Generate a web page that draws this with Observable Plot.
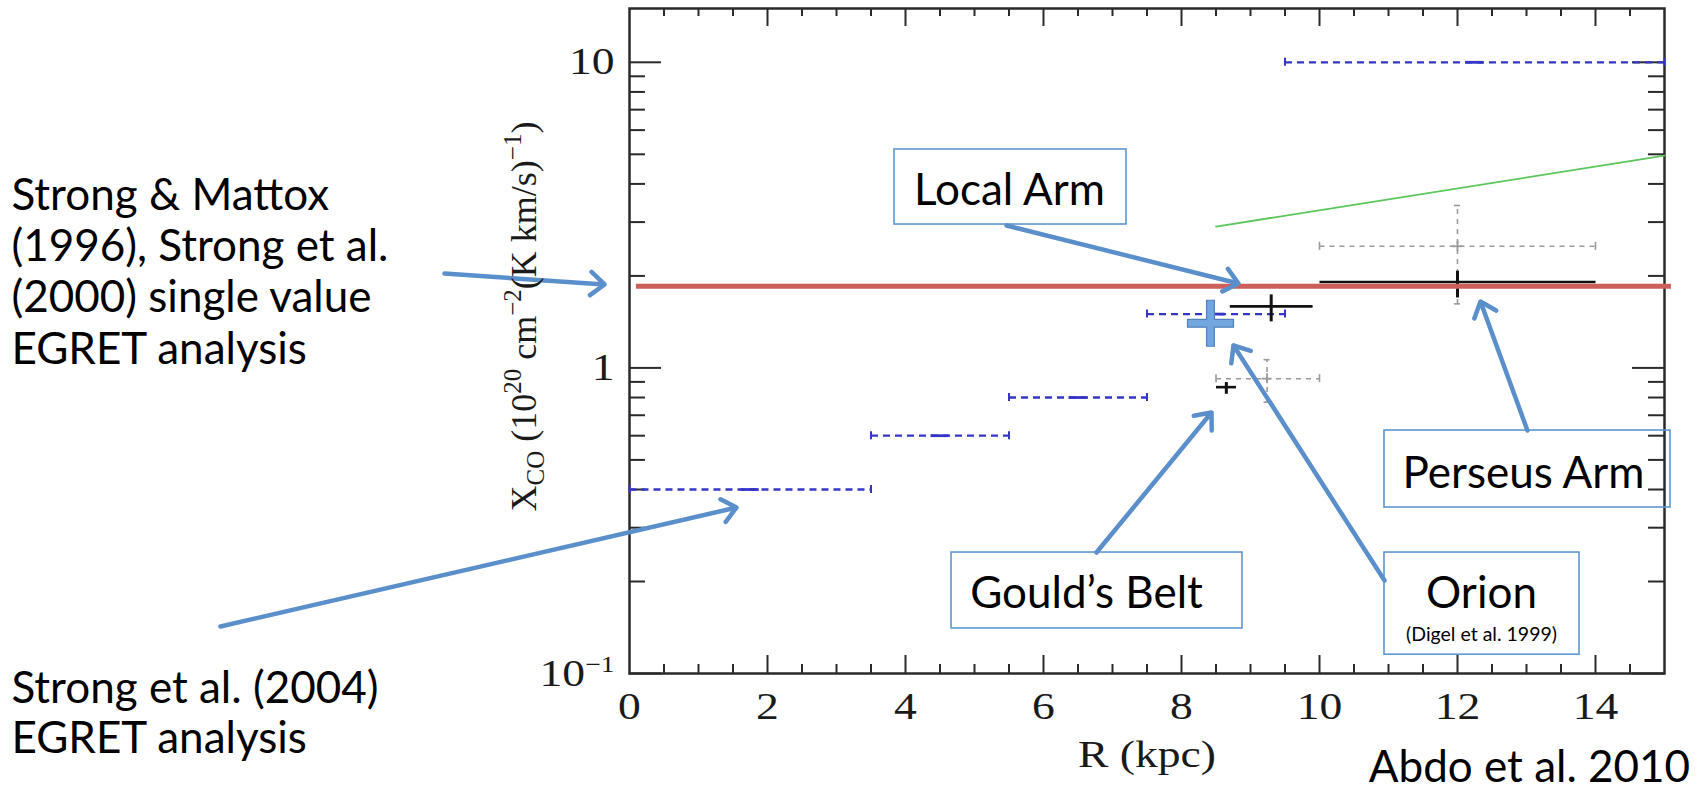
<!DOCTYPE html>
<html>
<head>
<meta charset="utf-8">
<script src="https://cdn.jsdelivr.net/npm/d3@7"></script>
<script src="https://cdn.jsdelivr.net/npm/@observablehq/plot@0.6"></script>
<style>
  html, body { margin: 0; padding: 0; background: #fff; }
  #chart svg { display: block; }
</style>
</head>
<body>
<div id="chart"></div>
<script>
// ---------------- DATA (R in kpc, X_CO in 1e20 cm^-2 (K km/s)^-1) ----------------
// tick values
const xTicks = [0, 2, 4, 6, 8, 10, 12, 14];
const yTicks = [0.1, 1, 10];

// Strong et al. (2004) EGRET radial bins (blue dashed steps)
const binLo = [0, 3.5, 5.5, 7.5, 9.5];
const binHi = [3.5, 5.5, 7.5, 9.5, 15];
const binX  = [0.4, 0.6, 0.8, 1.5, 10];

// green model line
const greenR = [8.5, 15];
const greenX = [2.9, 4.95];

// black crosses: Gould's Belt, Local Arm, Perseus Arm
const blackR   = [8.65, 9.3, 12];
const blackRlo = [8.5, 8.7, 10];
const blackRhi = [8.79, 9.9, 14];
const blackX   = [0.865, 1.59, 1.91];
const blackXlo = [0.823, 1.42, 1.70];
const blackXhi = [0.899, 1.74, 2.08];

// grey dashed crosses: Orion (Digel et al. 1999), Perseus
const greyR   = [9.24, 12];
const greyRlo = [8.5, 10];
const greyRhi = [10, 14];
const greyX   = [0.922, 2.5];
const greyXlo = [0.773, 1.62];
const greyXhi = [1.064, 3.40];

// single value (Strong & Mattox 1996; Strong et al. 2000)
const singleX = [1.85];
const singleR = [0.1, 15.1];

// highlighted point (blue plus)
const plusR = [8.42];
const plusX = [1.40];

// ---------------- ANNOTATIONS (placed in data units) ----------------
const leftNote1  = ["Strong & Mattox", "(1996), Strong et al.", "(2000) single value", "EGRET analysis"];
const leftNote1X = [3.666, 2.496, 1.693, 1.149];
const leftNote2  = ["Strong et al. (2004)", "EGRET analysis"];
const leftNote2X = [0.0893, 0.0613];
const leftNoteR  = -8.957;

const boxLabel = ["Local Arm", "Gould\u2019s Belt", "Orion", "Perseus Arm"];
const boxR1  = [3.841, 4.667, 10.942, 10.942];
const boxR2  = [7.203, 8.884, 13.768, 15.087];
const boxXlo = [2.946, 0.1404, 0.1152, 0.3493];
const boxXhi = [5.185, 0.2488, 0.2488, 0.6238];
const labelR = [5.507, 6.623, 12.348, 12.957];
const labelX = [3.793, 0.1827, 0.1827, 0.4513];

const subNote  = ["(Digel et al. 1999)"];
const subNoteR = [12.348];
const subNoteX = [0.1341];

const creditNote  = ["Abdo et al. 2010"];
const creditNoteR = [13.043];
const creditNoteX = [0.0490];

const arrowR1 = [-2.681, -5.928, 5.464, 6.768, 10.942, 13.014];
const arrowX1 = [2.036, 0.1425, 2.924, 0.2488, 0.2015, 0.6238];
const arrowR2 = [-0.362, 1.551, 8.826, 8.435, 8.754, 12.333];
const arrowX2 = [1.875, 0.3493, 1.889, 0.7145, 1.184, 1.649];

const xLabel = "R (kpc)";
const yLabelParts = [["X", 0], ["CO", -1], [" (10", 0], ["20", 1], [" cm", 0], ["\u22122", 1], ["(K km/s)", 0], ["\u22121", 1], [")", 0]];
const yLabelPlain = yLabelParts.map(d => d[0]).join("");

// ---------------- LAYOUT / STYLE ----------------
const W = 1697, H = 791;
const mL = 629, mR = 33, mT = 8, mB = 118;
const plotW = W - mL - mR, plotH = H - mT - mB;
const axisCol = "#2a2a2a";
const blue = "#3535c8", grey = "#9a9a9a", green = "#5cc55c", black = "#111";
const red = "#cd5f5a", arrowCol = "#5b8fcb", boxCol = "#5f96cf";
const serif = "'Liberation Serif', 'Times New Roman', serif";
const sans = "Lato, Carlito, 'Open Sans', sans-serif";
const noteSize = 44;

const idx = a => a.map((_, i) => i);
const xMinor = d3.range(0.5, 15, 0.5).filter(v => v % 2 !== 0);
const xMajor = xTicks.slice(1);
const yMinor = [2,3,4,5,6,7,8,9].map(k => k * 0.1).concat([2,3,4,5,6,7,8,9]);

const plusSymbol = {
  draw(ctx, size) {
    const r = Math.sqrt(size / Math.PI), w = r * 0.17;
    ctx.moveTo(-w, -r); ctx.lineTo(w, -r); ctx.lineTo(w, -w); ctx.lineTo(r, -w);
    ctx.lineTo(r, w); ctx.lineTo(w, w); ctx.lineTo(w, r); ctx.lineTo(-w, r);
    ctx.lineTo(-w, w); ctx.lineTo(-r, w); ctx.lineTo(-r, -w); ctx.lineTo(-w, -w);
    ctx.closePath();
  }
};

const si = idx(binLo), bi = idx(blackR), gi = idx(greyR);

const chart = Plot.plot({
  width: W, height: H,
  marginLeft: mL, marginRight: mR, marginTop: mT, marginBottom: mB,
  style: {fontFamily: serif, fontSize: "38px", color: "#1a1a1a", background: "#fff", overflow: "visible"},
  x: {domain: [0, 15], ticks: xTicks, tickSize: 0, tickPadding: 18.7, tickFormat: d => String(d), label: null},
  y: {type: "log", domain: [0.1, 15], ticks: yTicks, tickSize: 0, tickPadding: 15,
      tickFormat: d => d === 0.1 ? "10\u207B\u00B9" : String(d), label: null},
  marks: [
    // inner ticks on all four sides
    Plot.ruleX(xMinor, {insetTop: plotH - 9, stroke: axisCol, strokeWidth: 2}),
    Plot.ruleX(xMinor, {insetBottom: plotH - 8, stroke: axisCol, strokeWidth: 2}),
    Plot.ruleX(xMajor, {insetTop: plotH - 18, stroke: axisCol, strokeWidth: 2}),
    Plot.ruleX(xMajor, {insetBottom: plotH - 18, stroke: axisCol, strokeWidth: 2}),
    Plot.ruleY(yMinor, {insetRight: plotW - 16, stroke: axisCol, strokeWidth: 2}),
    Plot.ruleY(yMinor, {insetLeft: plotW - 16, stroke: axisCol, strokeWidth: 2}),
    Plot.ruleY(yTicks, {insetRight: plotW - 32, stroke: axisCol, strokeWidth: 2}),
    Plot.ruleY(yTicks, {insetLeft: plotW - 32, stroke: axisCol, strokeWidth: 2}),
    Plot.frame({stroke: axisCol, strokeWidth: 2.5}),

    // grey dashed crosses
    Plot.link(gi, {x1: i => greyRlo[i], x2: i => greyRhi[i], y1: i => greyX[i], y2: i => greyX[i],
      stroke: grey, strokeWidth: 1.6, strokeDasharray: "5,5"}),
    Plot.link(gi, {x1: i => greyR[i], x2: i => greyR[i], y1: i => greyXlo[i], y2: i => greyXhi[i],
      stroke: grey, strokeWidth: 1.6, strokeDasharray: "5,5"}),
    Plot.ruleX(gi, {x: i => greyRlo[i], y1: i => greyX[i], y2: i => greyX[i], insetTop: -4, insetBottom: -4, stroke: grey, strokeWidth: 1.6}),
    Plot.ruleX(gi, {x: i => greyRhi[i], y1: i => greyX[i], y2: i => greyX[i], insetTop: -4, insetBottom: -4, stroke: grey, strokeWidth: 1.6}),
    Plot.ruleY(gi, {y: i => greyXlo[i], x1: i => greyR[i], x2: i => greyR[i], insetLeft: -3, insetRight: -3, stroke: grey, strokeWidth: 1.6}),
    Plot.ruleY(gi, {y: i => greyXhi[i], x1: i => greyR[i], x2: i => greyR[i], insetLeft: -3, insetRight: -3, stroke: grey, strokeWidth: 1.6}),
    Plot.ruleX(gi, {x: i => greyR[i], y1: i => greyX[i], y2: i => greyX[i], insetTop: -5, insetBottom: -5, stroke: grey, strokeWidth: 1.8}),
    Plot.ruleY(gi, {y: i => greyX[i], x1: i => greyR[i], x2: i => greyR[i], insetLeft: -5, insetRight: -5, stroke: grey, strokeWidth: 1.8}),

    // blue dashed steps (Strong et al. 2004)
    Plot.link(si, {x1: i => binLo[i], x2: i => binHi[i], y1: i => binX[i], y2: i => binX[i],
      stroke: blue, strokeWidth: 2.3, strokeDasharray: "7,5"}),
    Plot.ruleX(si, {x: i => binLo[i], y1: i => binX[i], y2: i => binX[i], insetTop: -4, insetBottom: -4, stroke: blue, strokeWidth: 2}),
    Plot.ruleX(si, {x: i => binHi[i], y1: i => binX[i], y2: i => binX[i], insetTop: -4, insetBottom: -4, stroke: blue, strokeWidth: 2}),
    Plot.ruleY(si, {y: i => binX[i], x1: i => (binLo[i] + binHi[i]) / 2, x2: i => (binLo[i] + binHi[i]) / 2,
      insetLeft: -9, insetRight: -9, stroke: blue, strokeWidth: 2.8}),

    // green model
    Plot.line(idx(greenR), {x: i => greenR[i], y: i => greenX[i], stroke: green, strokeWidth: 1.8}),

    // black crosses
    Plot.link(bi, {x1: i => blackRlo[i], x2: i => blackRhi[i], y1: i => blackX[i], y2: i => blackX[i], stroke: black, strokeWidth: 2.6}),
    Plot.link(bi, {x1: i => blackR[i], x2: i => blackR[i], y1: i => blackXlo[i], y2: i => blackXhi[i], stroke: black, strokeWidth: 3}),

    // single value line
    Plot.ruleY(singleX, {x1: () => singleR[0], x2: () => singleR[1], stroke: red, strokeWidth: 5}),

    // highlighted blue plus
    Plot.dot(idx(plusR), {x: i => plusR[i], y: i => plusX[i], r: 23, symbol: plusSymbol,
      fill: "#72a6de", stroke: "#4f81bd", strokeWidth: 1.2}),

    // annotation boxes
    Plot.rect(idx(boxLabel), {x1: i => boxR1[i], x2: i => boxR2[i], y1: i => boxXlo[i], y2: i => boxXhi[i],
      fill: "none", stroke: boxCol, strokeWidth: 1.6}),

    // arrows
    Plot.arrow(idx(arrowR1), {x1: i => arrowR1[i], y1: i => arrowX1[i], x2: i => arrowR2[i], y2: i => arrowX2[i],
      stroke: arrowCol, strokeWidth: 4.5, headLength: 6, headAngle: 80}),

    // annotation texts
    Plot.text(idx(boxLabel), {x: i => labelR[i], y: i => labelX[i], text: i => boxLabel[i],
      fontFamily: sans, fontSize: noteSize, fill: "#000", lineAnchor: "middle"}),
    Plot.text(idx(subNote), {x: i => subNoteR[i], y: i => subNoteX[i], text: i => subNote[i],
      fontFamily: sans, fontSize: 19.5, fill: "#000", lineAnchor: "middle"}),
    Plot.text(idx(creditNote), {x: i => creditNoteR[i], y: i => creditNoteX[i], text: i => creditNote[i],
      fontFamily: sans, fontSize: noteSize, fill: "#000", lineAnchor: "middle"}),
    Plot.text(idx(leftNote1), {x: () => leftNoteR, y: i => leftNote1X[i], text: i => leftNote1[i],
      fontFamily: sans, fontSize: noteSize, fill: "#000", textAnchor: "start", lineAnchor: "middle"}),
    Plot.text(idx(leftNote2), {x: () => leftNoteR, y: i => leftNote2X[i], text: i => leftNote2[i],
      fontFamily: sans, fontSize: noteSize, fill: "#000", textAnchor: "start", lineAnchor: "middle"}),

    // axis titles
    Plot.text([0], {frameAnchor: "bottom", text: () => xLabel, dy: 81.5, fontFamily: serif, fontSize: 38,
      fill: "#1a1a1a", lineAnchor: "middle"}),
    Plot.text([0], {frameAnchor: "left", text: () => yLabelPlain, rotate: -90, dx: -105, dy: -24.5,
      fontFamily: serif, fontSize: 36, fill: "#1a1a1a", lineAnchor: "middle"})
  ]
});

document.getElementById("chart").append(chart);
const svg = chart.tagName.toLowerCase() === "svg" ? chart : chart.querySelector("svg");
const NS = "http://www.w3.org/2000/svg";

// superscript for 10^-1 tick label
svg.querySelectorAll("text").forEach(t => {
  if (t.textContent === "10\u207B\u00B9") {
    t.textContent = "10";
    const ts = document.createElementNS(NS, "tspan");
    ts.setAttribute("dy", "-14");
    ts.setAttribute("font-size", "23");
    ts.textContent = "\u22121";
    t.appendChild(ts);
  }
});

// rich y-axis title, re-centred on its anchor
svg.querySelectorAll("text").forEach(t => {
  if (t.textContent === yLabelPlain) {
    t.textContent = "";
    t.setAttribute("text-anchor", "start");
    let cur = 0;
    for (const [s, k] of yLabelParts) {
      const ts = document.createElementNS(NS, "tspan");
      const target = k === 1 ? -15 : k === -1 ? 8 : 0;
      ts.setAttribute("dy", String(target - cur));
      cur = target;
      if (k !== 0) ts.setAttribute("font-size", "25");
      ts.textContent = s;
      t.appendChild(ts);
    }
    const b = t.getBBox();
    const tr = t.getAttribute("transform") || "";
    t.setAttribute("transform", `${tr} translate(${-(b.x + b.width / 2)},0)`);
  }
});

// the reference's serif axis text is stretched horizontally
function stretch(el, k, mode) {
  const b = el.getBBox();
  const ox = mode === "end" ? b.x + b.width : b.x + b.width / 2;
  const t = el.getAttribute("transform") || "";
  el.setAttribute("transform", `${t} translate(${ox},0) scale(${k},1) translate(${-ox},0)`);
}
svg.querySelectorAll('g[aria-label^="x-axis"] text').forEach(t => stretch(t, 1.2, "mid"));
svg.querySelectorAll('g[aria-label^="y-axis"] text').forEach(t => stretch(t, 1.2, "end"));
svg.querySelectorAll("text").forEach(t => { if (t.textContent === xLabel) stretch(t, 1.2, "mid"); });
</script>
</body>
</html>
